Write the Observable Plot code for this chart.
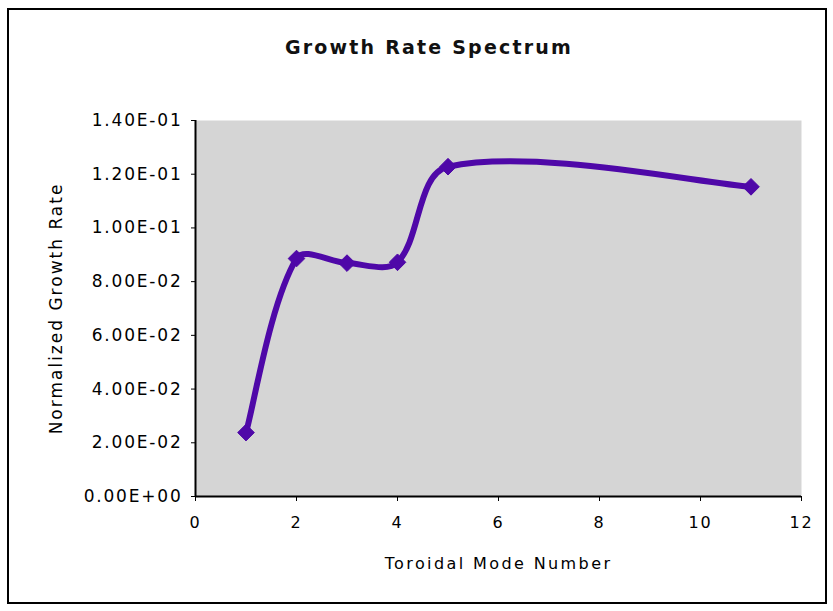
<!DOCTYPE html>
<html>
<head>
<meta charset="utf-8">
<script src="https://cdn.jsdelivr.net/npm/d3@7"></script>
<script src="https://cdn.jsdelivr.net/npm/@observablehq/plot@0.6"></script>
<style>
  html, body { margin: 0; padding: 0; background: #ffffff; }
  #chart { position: relative; width: 833px; height: 611px; overflow: hidden; font-family: "DejaVu Sans", sans-serif; }
  #frame { position: absolute; left: 7px; top: 8px; width: 816px; height: 592px; border: 2px solid #000; pointer-events: none; }
  #title { position: absolute; left: 0; top: 36px; width: 858px; text-align: center; font-size: 19px; font-weight: bold; letter-spacing: 2.2px; color: #111; }
  #chart svg { position: absolute; left: 0; top: 0; }
  #chart svg g[aria-label="x-axis label"] text { letter-spacing: 2.4px; }
  #chart svg g[aria-label="y-axis label"] text { letter-spacing: 2.0px; }
  #chart svg g[aria-label="x-axis tick label"] text,
  #chart svg g[aria-label="y-axis tick label"] text { letter-spacing: 1.8px; }
</style>
</head>
<body>
<div id="chart">
  <div id="title">Growth Rate Spectrum</div>
  <div id="frame"></div>
</div>
<script>
// Growth rate per toroidal mode number
const modes = [1, 2, 3, 4, 5, 11];
const growth = [0.0238, 0.0886, 0.0869, 0.0872, 0.1228, 0.1153];

// Axis ticks and their labels
const xTicks = [0, 2, 4, 6, 8, 10, 12];
const yTicks = [0, 0.02, 0.04, 0.06, 0.08, 0.10, 0.12, 0.14];
const yTickLabels = ["0.00E+00", "2.00E-02", "4.00E-02", "6.00E-02", "8.00E-02", "1.00E-01", "1.20E-01", "1.40E-01"];

const rows = modes.map((m, i) => ({mode: m, rate: growth[i]}));
const lineColor = "#4f08a8";

// Smoothed line: cubic Bézier segments whose control points follow the
// neighbour chord, split in proportion to the lengths of the adjacent segments.
function smoothCurve(context) {
  let pts = [];
  const dist = (a, b) => Math.hypot(b[0] - a[0], b[1] - a[1]);
  function outControl(i) {
    const p = pts[i];
    if (i === 0) {
      const q = pts[1];
      return [p[0] + (q[0] - p[0]) / 6, p[1] + (q[1] - p[1]) / 6];
    }
    const a = pts[i - 1], b = pts[i + 1];
    const din = dist(a, p), dout = dist(p, b);
    const f = dout / (din + dout) / 3;
    return [p[0] + (b[0] - a[0]) * f, p[1] + (b[1] - a[1]) * f];
  }
  function inControl(i) {
    const p = pts[i];
    if (i === pts.length - 1) {
      const a = pts[i - 1];
      return [p[0] + (a[0] - p[0]) / 6, p[1] + (a[1] - p[1]) / 6];
    }
    const a = pts[i - 1], b = pts[i + 1];
    const din = dist(a, p), dout = dist(p, b);
    const f = din / (din + dout) / 3;
    return [p[0] - (b[0] - a[0]) * f, p[1] - (b[1] - a[1]) * f];
  }
  return {
    areaStart() {},
    areaEnd() {},
    lineStart() { pts = []; },
    point(x, y) { pts.push([+x, +y]); },
    lineEnd() {
      const n = pts.length;
      if (!n) return;
      context.moveTo(pts[0][0], pts[0][1]);
      if (n === 2) { context.lineTo(pts[1][0], pts[1][1]); return; }
      for (let i = 0; i < n - 1; ++i) {
        const c1 = outControl(i), c2 = inControl(i + 1), p = pts[i + 1];
        context.bezierCurveTo(c1[0], c1[1], c2[0], c2[1], p[0], p[1]);
      }
    }
  };
}

const plot = Plot.plot({
  width: 833,
  height: 611,
  marginLeft: 195,
  marginRight: 32,
  marginTop: 120,
  marginBottom: 115,
  style: {fontFamily: "DejaVu Sans", fontSize: "16px", background: "transparent", color: "#000"},
  x: {domain: [0, 12]},
  y: {domain: [0, 0.14]},
  marks: [
    Plot.frame({fill: "#d5d5d5", stroke: "none"}),
    Plot.axisX({
      ticks: xTicks, tickSize: 5, tickPadding: 15, fontSize: 16,
      label: "Toroidal Mode Number", labelAnchor: "center", labelOffset: 72, labelArrow: "none"
    }),
    Plot.axisY({
      ticks: yTicks, tickSize: 4, tickPadding: 9, fontSize: 17,
      tickFormat: (d, i) => yTickLabels[i],
      label: "Normalized Growth Rate", labelAnchor: "center", labelOffset: 146, labelArrow: "none"
    }),
    Plot.ruleX([0], {stroke: "#000", strokeWidth: 2}),
    Plot.ruleY([0], {stroke: "#000", strokeWidth: 2}),
    Plot.line(rows, {x: "mode", y: "rate", curve: smoothCurve, stroke: lineColor, strokeWidth: 6}),
    Plot.dot(rows, {x: "mode", y: "rate", symbol: "diamond2", r: 7.5, fill: lineColor, stroke: lineColor, strokeWidth: 1})
  ]
});
document.getElementById("chart").insertBefore(plot, document.getElementById("frame"));
</script>
</body>
</html>
